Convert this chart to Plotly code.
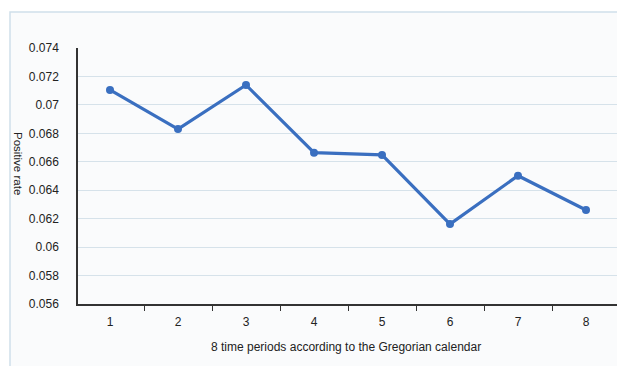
import plotly.graph_objects as go

periods = ["1", "2", "3", "4", "5", "6", "7", "8"]
positive_rate = [0.07105, 0.06830, 0.07140, 0.06664, 0.06648, 0.06162, 0.06502, 0.06261]
y_tick_vals = [0.056, 0.058, 0.060, 0.062, 0.064, 0.066, 0.068, 0.070, 0.072, 0.074]
y_tick_text = ["0.056", "0.058", "0.06", "0.062", "0.064", "0.066", "0.068", "0.07", "0.072", "0.074"]

W, H = 625, 366
OFF = 8  # page body margin of the default html page
# desired on-screen plot box: x 78..618, y 48..304
SL, ST, SR, SB = 78, 48, 618, 304
L, T = SL - OFF, ST - OFF
R = W - (SR - OFF)
B = H - (SB - OFF)
pw, ph = SR - SL, SB - ST

def px(sx):
    return (sx - SL) / pw

def py(sy):
    return (SB - sy) / ph

font = "Liberation Sans, Arial, sans-serif"

fig = go.Figure()
fig.add_trace(go.Scatter(
    x=periods, y=positive_rate, mode="lines+markers",
    line=dict(color="#3a6fc0", width=3.2),
    marker=dict(color="#3a6fc0", size=8),
    showlegend=False,
))

fig.update_layout(
    width=W, height=H,
    margin=dict(l=L, r=R, t=T, b=B),
    paper_bgcolor="white",
    plot_bgcolor="rgba(0,0,0,0)",
    font=dict(family=font, size=12, color="#222"),
    xaxis=dict(
        type="category", tickson="boundaries", ticks="outside", ticklen=5,
        tickwidth=1.2, tickcolor="#333", showline=True, linecolor="#333",
        linewidth=1.5, showgrid=False, zeroline=False,
        ticklabelstandoff=6,
        tickfont=dict(size=12, color="#222"),
    ),
    yaxis=dict(
        range=[0.056, 0.074], tickvals=y_tick_vals, ticktext=y_tick_text,
        showline=True, linecolor="#333", linewidth=1.5, ticks="",
        ticklabelstandoff=15,
        showgrid=True, gridcolor="#d6e2ea", gridwidth=1, zeroline=False,
        tickfont=dict(size=12, color="#222"),
    ),
    shapes=[dict(
        type="rect", xref="paper", yref="paper", layer="below",
        x0=px(10), x1=px(640), y0=py(12), y1=py(380),
        fillcolor="#fafbfc", line=dict(color="#cfe0ea", width=1.5),
    )],
    annotations=[
        dict(text="Positive rate", xref="paper", yref="paper",
             x=px(18), y=py(163), textangle=90, showarrow=False,
             font=dict(size=11.5, color="#222"), xanchor="center", yanchor="middle"),
        dict(text="8 time periods according to the Gregorian calendar",
             xref="paper", yref="paper", x=px(346), y=py(347), showarrow=False,
             font=dict(size=12, color="#222"), xanchor="center", yanchor="middle"),
    ],
)

fig.write_html("out.html")
